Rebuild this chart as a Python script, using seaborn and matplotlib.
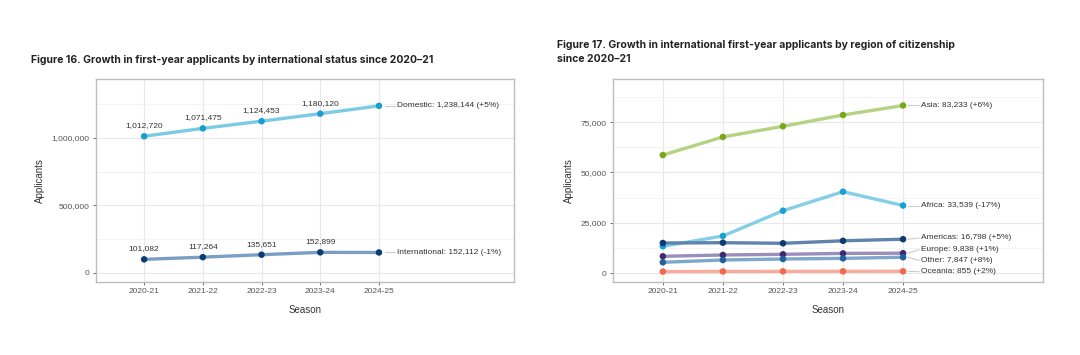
import matplotlib
matplotlib.use("Agg")
import matplotlib.pyplot as plt
import seaborn as sns
import pandas as pd

seasons = ["2020-21", "2021-22", "2022-23", "2023-24", "2024-25"]

# Figure 16
domestic = [1012720, 1071475, 1124453, 1180120, 1238144]
international = [101082, 117264, 135651, 152899, 152112]
status_labels = ["Domestic: 1,238,144 (+5%)", "International: 152,112 (-1%)"]

# Figure 17
asia = [58600, 67600, 72900, 78500, 83233]
africa = [13270, 18390, 30960, 40400, 33539]
americas = [14900, 15060, 14760, 16000, 16798]
europe = [8300, 8950, 9290, 9740, 9838]
other = [5320, 6460, 6960, 7270, 7847]
oceania = [700, 780, 820, 838, 855]
region_names = ["Asia", "Africa", "Americas", "Europe", "Other", "Oceania"]
region_labels = ["Asia: 83,233 (+6%)", "Africa: 33,539 (-17%)", "Americas: 16,798 (+5%)",
                 "Europe: 9,838 (+1%)", "Other: 7,847 (+8%)", "Oceania: 855 (+2%)"]

sns.set_theme(style="whitegrid")
plt.rcParams["font.family"] = ["Liberation Sans", "DejaVu Sans"]

fig = plt.figure(figsize=(10.8, 3.55), dpi=100)
W, H = 1080, 355
def rect(x0, x1, y0, y1):
    return [x0 / W, 1 - y1 / H, (x1 - x0) / W, (y1 - y0) / H]

ax1 = fig.add_axes(rect(96, 514, 79, 282))
ax2 = fig.add_axes(rect(613, 1043, 79, 282))

tick_color = "#555555"
grid_color = "#e8e8e8"

def style_axes(ax):
    ax.set_facecolor("white")
    for s in ax.spines.values():
        s.set_color("#bdbdbd")
        s.set_linewidth(1.0)
    ax.grid(True, color=grid_color, linewidth=0.8)
    ax.grid(True, which="minor", axis="y", color="#f2f2f2", linewidth=0.6)
    ax.tick_params(axis="both", which="major", length=2.5, width=0.6, color="#555555",
                   labelsize=6, labelcolor=tick_color, pad=2, left=True, bottom=True)
    ax.tick_params(axis="y", which="minor", length=0)
    ax.set_xlabel("Season", fontsize=7, color="#333333", labelpad=7)
    ax.set_ylabel("Applicants", fontsize=7, color="#333333", labelpad=5)
    ax.set_axisbelow(True)

# ---------- Figure 16 ----------
df1 = pd.DataFrame({
    "Season": seasons * 2,
    "pos": list(range(5)) * 2,
    "Applicants": domestic + international,
    "Status": ["Domestic"] * 5 + ["International"] * 5,
})
line_pal1 = {"Domestic": "#7ccbe4", "International": "#7b9ec4"}
pt_pal1 = {"Domestic": "#1a9ed0", "International": "#0b3c78"}
sns.lineplot(data=df1, x="pos", y="Applicants", hue="Status", palette=line_pal1,
             linewidth=2.4, legend=False, ax=ax1, zorder=2)
sns.scatterplot(data=df1, x="pos", y="Applicants", hue="Status", palette=pt_pal1,
                s=22, linewidth=0, legend=False, ax=ax1, zorder=3)
for vals in (domestic, international):
    for i in range(4):
        ax1.annotate(f"{vals[i]:,}", (i, vals[i]), xytext=(0, 5), textcoords="offset points",
                     ha="center", va="bottom", fontsize=6, color="#333333")
for vals, lab in zip((domestic, international), status_labels):
    ax1.plot([4.1, 4.27], [vals[4], vals[4]], color="#cccccc", linewidth=0.8, zorder=1)
    ax1.text(4.3, vals[4], lab, fontsize=6, color="#333333", va="center", ha="left")

ax1.set_xlim(-0.82, 6.3)
ax1.set_ylim(-66700, 1437000)
ax1.set_xticks(range(5))
ax1.set_xticklabels(seasons)
ax1.set_yticks([0, 500000, 1000000])
ax1.set_yticklabels(["0", "500,000", "1,000,000"])
ax1.set_yticks([250000, 750000, 1250000], minor=True)
style_axes(ax1)

# ---------- Figure 17 ----------
reg_vals = [asia, africa, americas, europe, other, oceania]
df2 = pd.DataFrame({
    "Season": seasons * 6,
    "pos": list(range(5)) * 6,
    "Applicants": sum(reg_vals, []),
    "Region": sum([[r] * 5 for r in region_names], []),
})
line_pal2 = {"Asia": "#b5d382", "Africa": "#84cfe7", "Americas": "#5f83ad",
             "Europe": "#9a8fbb", "Other": "#7fa7cb", "Oceania": "#f6ad9e"}
pt_pal2 = {"Asia": "#77a81c", "Africa": "#17a2d3", "Americas": "#0c3a72",
           "Europe": "#3f2a6d", "Other": "#1f619c", "Oceania": "#f26a4c"}
sns.lineplot(data=df2, x="pos", y="Applicants", hue="Region", palette=line_pal2,
             linewidth=2.4, legend=False, ax=ax2, zorder=2)
sns.scatterplot(data=df2, x="pos", y="Applicants", hue="Region", palette=pt_pal2,
                s=22, linewidth=0, legend=False, ax=ax2, zorder=3)
label_y = [83233, 33539, 17400, 11600, 6300, 650]
for vals, lab, ly in zip(reg_vals, region_labels, label_y):
    ax2.plot([4.08, 4.27], [vals[4], ly], color="#cccccc", linewidth=0.8, zorder=1)
    ax2.text(4.3, ly, lab, fontsize=6, color="#333333", va="center", ha="left")

ax2.set_xlim(-0.83, 6.33)
ax2.set_ylim(-4470, 96400)
ax2.set_xticks(range(5))
ax2.set_xticklabels(seasons)
ax2.set_yticks([0, 25000, 50000, 75000])
ax2.set_yticklabels(["0", "25,000", "50,000", "75,000"])
ax2.set_yticks([12500, 37500, 62500, 87500], minor=True)
style_axes(ax2)

# Titles
fig.text(31 / W, 1 - 60 / H,
         "Figure 16. Growth in first-year applicants by international status since 2020\u201321",
         fontsize=7.5, fontweight="bold", color="#222222", va="center", ha="left",
         family=["Inter", "DejaVu Sans"])
fig.text(557 / W, 1 - 52 / H,
         "Figure 17. Growth in international first-year applicants by region of citizenship\nsince 2020\u201321",
         fontsize=7.5, fontweight="bold", color="#222222", va="center", ha="left",
         linespacing=1.6, family=["Inter", "DejaVu Sans"])

fig.savefig("out.png", dpi=100, facecolor="white")
